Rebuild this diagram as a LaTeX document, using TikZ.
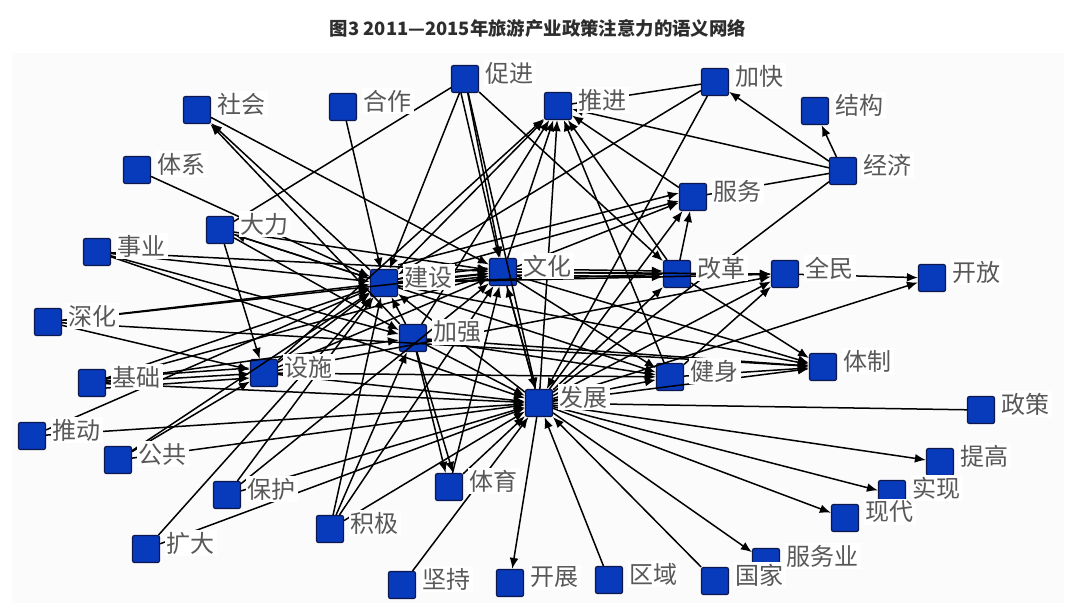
\documentclass[tikz,border=0pt]{standalone}
\usepackage{fontspec}
\usepackage{xcolor}
\usepackage{tikz}
\usetikzlibrary{arrows.meta, positioning}
\newfontfamily\cjk{Noto Sans CJK SC}
\definecolor{termblue}{RGB}{8,58,188}
\definecolor{termedge}{RGB}{12,24,78}
\definecolor{wordgray}{RGB}{88,88,88}
\definecolor{titlegray}{RGB}{45,45,45}

\begin{document}
\begin{tikzpicture}[x=0.5pt, y=-0.5pt,
    term/.style={draw=termedge, fill=termblue, line width=0.6pt, rounded corners=1pt, minimum size=13.5pt, inner sep=0pt},
    word/.style={font=\cjk\fontsize{12pt}{12pt}\selectfont, text=wordgray, fill=white, inner sep=1pt, yshift=3pt},
    link/.style={-{Latex[length=5.5pt,width=4.4pt]}, line width=0.75pt},
    tie/.style={-}]
        \useasboundingbox (0,0) rectangle (1080,607);
        \fill[black!1.5] (12,53) rectangle (1064,603);
        \node[font=\cjk\bfseries\fontsize{9.2pt}{10pt}\selectfont, text=titlegray] (title) at (538,29) {图3 2011—2015年旅游产业政策注意力的语义网络};

        % terms
        \node[term] (cujin)    at (465,79)  {};
        \node[term] (hezuo)    at (343,107) {};
        \node[term] (shehui)   at (197,110) {};
        \node[term] (tuijin)   at (558,106) {};
        \node[term] (jiakuai)  at (715,82)  {};
        \node[term] (jiegou)   at (815,111) {};
        \node[term] (jingji)   at (843,171) {};
        \node[term] (tixi)     at (137,170) {};
        \node[term] (fuwu)     at (693,197) {};
        \node[term] (dali)     at (220,230) {};
        \node[term] (shiye)    at (97,252)  {};
        \node[term] (jianshe)  at (384,283) {};
        \node[term] (wenhua)   at (503,272) {};
        \node[term] (gaige)    at (677,274) {};
        \node[term] (quanmin)  at (785,274) {};
        \node[term] (kaifang)  at (932,278) {};
        \node[term] (shenhua)  at (48,322)  {};
        \node[term] (jiaqiang) at (413,338) {};
        \node[term] (sheshi)   at (264,373) {};
        \node[term] (jianshen) at (670,377) {};
        \node[term] (tizhi)    at (823,367) {};
        \node[term] (jichu)    at (92,383)  {};
        \node[term] (fazhan)   at (539,403) {};
        \node[term] (zhengce)  at (981,410) {};
        \node[term] (tuidong)  at (32,436)  {};
        \node[term] (gonggong) at (118,460) {};
        \node[term] (tigao)    at (940,462) {};
        \node[term] (shixian)  at (892,494) {};
        \node[term] (baohu)    at (227,495) {};
        \node[term] (tiyu)     at (449,487) {};
        \node[term] (xiandai)  at (845,518) {};
        \node[term] (jiji)     at (330,529) {};
        \node[term] (kuoda)    at (146,549) {};
        \node[term] (fuwuye)   at (766,562) {};
        \node[term] (jianchi)  at (402,585) {};
        \node[term] (kaizhan)  at (510,583) {};
        \node[term] (quyu)     at (609,580) {};
        \node[term] (guojia)   at (715,581) {};

        % links
        \path[link]
        (cujin) edge (jianshe) edge (wenhua) edge (fazhan) edge (gaige) edge[tie] (dali)
        (hezuo) edge (jianshe)
        (shehui) edge (wenhua)
        (tixi) edge (jianshe)
        (jiakuai) edge[tie] (tuijin) edge (jianshe) edge (fazhan)
        (jingji) edge (jiakuai) edge (jiegou) edge (tuijin) edge[tie] (fuwu) edge[tie] (fazhan)
        (shiye) edge (jianshe) edge (wenhua) edge (jiaqiang) edge (fazhan)
        (dali) edge (sheshi) edge (jianshe) edge (wenhua) edge (jiaqiang)
        (shenhua) edge (jianshe) edge (sheshi) edge (wenhua) edge (tizhi)
        (jichu) edge (sheshi) edge (jianshe) edge (wenhua) edge (fazhan) edge (jiaqiang)
        (tuidong) edge (jianshe) edge (fazhan)
        (gonggong) edge (sheshi) edge (fazhan) edge (jianshe)
        (baohu) edge (fazhan) edge (jianshe) edge (wenhua)
        (kuoda) edge (jianshe) edge (fazhan)
        (jiji) edge (jiaqiang) edge (jianshe) edge (wenhua) edge (fazhan)
        (jianchi) edge (fazhan)
        (quyu) edge (fazhan)
        (guojia) edge (fazhan)
        (tiyu) edge (wenhua) edge (fazhan)
        (sheshi) edge (jianshe) edge (wenhua) edge (tuijin) edge (fazhan) edge (jianshen) edge (quanmin)
        (jiaqiang) edge (tiyu) edge (fazhan) edge (jianshe) edge (shehui) edge (jianshen) edge (tizhi) edge (tuijin)
        (jianshe) edge (wenhua) edge (gaige) edge (tuijin) edge (fuwu) edge (quanmin) edge (dali) edge (shehui) edge (jianshen) edge (tizhi)
        (wenhua) edge (gaige) edge (fazhan) edge (tuijin) edge (fuwu) edge (quanmin) edge (tizhi) edge (jianshen)
        (fazhan) edge (wenhua) edge (jianshe) edge (tuijin) edge (fuwu) edge (quanmin) edge (kaifang) edge (jianshen) edge (tizhi)
                 edge[tie] (zhengce) edge (tigao) edge (shixian) edge (xiandai) edge (fuwuye) edge (kaizhan) edge (gaige)
        (gaige) edge (quanmin) edge (tizhi) edge (tuijin) edge (fuwu)
        (fuwu) edge (tuijin)
        (quanmin) edge (kaifang)
        (jianshen) edge (quanmin) edge (tizhi) edge (tuijin);

        % doubled links
        \draw[link] ([yshift=1.5pt]wenhua.east) -- ([yshift=1.5pt]gaige.west);
        \draw[link] ([yshift=-1.5pt]wenhua.east) -- ([yshift=-1.5pt]gaige.west);
        \draw[link] ([yshift=2.5pt]jichu.east) -- ([yshift=2.5pt]sheshi.west);
        \draw[link] ([yshift=-2.5pt]jichu.east) -- ([yshift=-2.5pt]sheshi.west);
        \draw[link] ([xshift=2pt]jiaqiang.south) -- ([xshift=2pt]tiyu.north);
        \draw[link] ([yshift=2pt]jianshe.east) -- ([yshift=2pt]wenhua.west);
        \draw[link] ([yshift=-2pt]jianshe.east) -- ([yshift=-2pt]wenhua.west);
        \draw[link] ([xshift=-2pt]cujin.south) -- ([xshift=-2pt]wenhua.north);
        \draw[link] ([yshift=2pt]jianshe.north east) -- ([yshift=2pt]fuwu.west);

        % words
        \node[word, right=2pt of cujin]    (cujin-w)    {促进};
        \node[word, right=2pt of hezuo]    (hezuo-w)    {合作};
        \node[word, right=2pt of shehui]   (shehui-w)   {社会};
        \node[word, right=2pt of tuijin]   (tuijin-w)   {推进};
        \node[word, right=2pt of jiakuai]  (jiakuai-w)  {加快};
        \node[word, right=2pt of jiegou]   (jiegou-w)   {结构};
        \node[word, right=2pt of jingji]   (jingji-w)   {经济};
        \node[word, right=2pt of tixi]     (tixi-w)     {体系};
        \node[word, right=2pt of fuwu]     (fuwu-w)     {服务};
        \node[word, right=2pt of dali]     (dali-w)     {大力};
        \node[word, right=2pt of shiye]    (shiye-w)    {事业};
        \node[word, right=2pt of jianshe]  (jianshe-w)  {建设};
        \node[word, right=2pt of wenhua]   (wenhua-w)   {文化};
        \node[word, right=2pt of gaige]    (gaige-w)    {改革};
        \node[word, right=2pt of quanmin]  (quanmin-w)  {全民};
        \node[word, right=2pt of kaifang]  (kaifang-w)  {开放};
        \node[word, right=2pt of shenhua]  (shenhua-w)  {深化};
        \node[word, right=2pt of jiaqiang] (jiaqiang-w) {加强};
        \node[word, right=2pt of sheshi]   (sheshi-w)   {设施};
        \node[word, right=2pt of jianshen] (jianshen-w) {健身};
        \node[word, right=2pt of tizhi]    (tizhi-w)    {体制};
        \node[word, right=2pt of jichu]    (jichu-w)    {基础};
        \node[word, right=2pt of fazhan]   (fazhan-w)   {发展};
        \node[word, right=2pt of zhengce]  (zhengce-w)  {政策};
        \node[word, right=2pt of tuidong]  (tuidong-w)  {推动};
        \node[word, right=2pt of gonggong] (gonggong-w) {公共};
        \node[word, right=2pt of tigao]    (tigao-w)    {提高};
        \node[word, right=2pt of shixian]  (shixian-w)  {实现};
        \node[word, right=2pt of baohu]    (baohu-w)    {保护};
        \node[word, right=2pt of tiyu]     (tiyu-w)     {体育};
        \node[word, right=2pt of xiandai]  (xiandai-w)  {现代};
        \node[word, right=2pt of jiji]     (jiji-w)     {积极};
        \node[word, right=2pt of kuoda]    (kuoda-w)    {扩大};
        \node[word, right=2pt of fuwuye]   (fuwuye-w)   {服务业};
        \node[word, right=2pt of jianchi]  (jianchi-w)  {坚持};
        \node[word, right=2pt of kaizhan]  (kaizhan-w)  {开展};
        \node[word, right=2pt of quyu]     (quyu-w)     {区域};
        \node[word, right=2pt of guojia]   (guojia-w)   {国家};
\end{tikzpicture}
\end{document}
